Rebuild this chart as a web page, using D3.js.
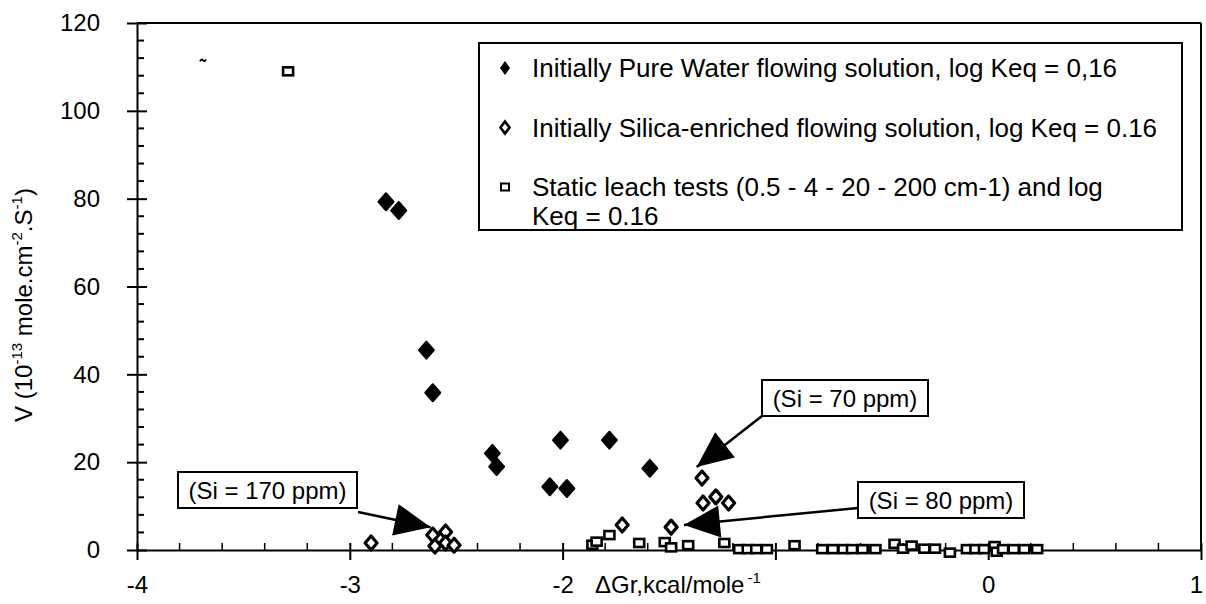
<!DOCTYPE html>
<html>
<head>
<meta charset="utf-8">
<script src="https://cdn.jsdelivr.net/npm/d3@7"></script>
<style>
  body { margin: 0; background: #fff; }
  text { font-family: "Liberation Sans", Arial, sans-serif; fill: #000; }
</style>
</head>
<body>
<svg id="chart"></svg>
<script>
// Initially pure water flowing solution (filled diamonds)
var pure_dg = [-2.83, -2.77, -2.64, -2.61, -2.33, -2.31, -2.01, -1.78, -2.06, -1.98, -1.59];
var pure_v  = [79.3, 77.3, 45.5, 35.8, 22.0, 19.0, 25.0, 25.0, 14.4, 14.0, 18.6];

// Initially silica-enriched flowing solution (open diamonds)
var silica_dg = [-2.90, -2.61, -2.60, -2.55, -2.55, -2.51, -1.72, -1.49, -1.345, -1.34, -1.28, -1.22];
var silica_v  = [1.6, 3.4, 0.9, 4.1, 1.6, 1.1, 5.7, 5.2, 16.4, 10.7, 12.1, 10.7];

// Static leach tests (open squares)
var static_dg = [-3.29, -1.86, -1.84, -1.78, -1.64, -1.52, -1.49, -1.41, -1.24, -1.17, -1.13, -1.09, -1.04,
                 -0.91, -0.78, -0.73, -0.68, -0.64, -0.59, -0.53, -0.44, -0.40, -0.36, -0.30, -0.25, -0.18,
                 -0.10, -0.06, -0.02, 0.03, 0.04, 0.07, 0.12, 0.17, 0.23];
var static_v  = [109.0, 1.2, 1.9, 3.4, 1.6, 1.8, 0.6, 1.1, 1.6, 0.2, 0.2, 0.2, 0.2,
                 1.1, 0.2, 0.2, 0.2, 0.2, 0.2, 0.2, 1.4, 0.3, 1.0, 0.3, 0.3, -0.6,
                 0.2, 0.2, 0.2, 0.9, -0.4, 0.2, 0.2, 0.2, 0.2];

// stray mark near the top left of the scan
var stray_dg = [-3.69];
var stray_v = [111.5];

var x_ticks = [-4, -3, -2, -1, 0, 1];
var x_labels = {"-4": "-4", "-3": "-3", "-2": "-2", "-1": "", "0": "0", "1": "1"};
var y_ticks = [0, 20, 40, 60, 80, 100, 120];

var legend_labels = [
  ["Initially Pure Water flowing solution, log Keq = 0,16"],
  ["Initially Silica-enriched flowing solution, log Keq = 0.16"],
  ["Static leach tests (0.5 - 4 - 20 - 200 cm-1) and log", "Keq = 0.16"]
];

// annotations: label, box left/top/width, arrow start (px), arrow tip (data coords)
var notes = [
  {label: "(Si = 170 ppm)", bx: 178, by: 472, bw: 179, from: [358, 512], tip: [-2.62, 5.2]},
  {label: "(Si = 70 ppm)",  bx: 762, by: 380, bw: 166, from: [762, 416], tip: [-1.37, 18.9]},
  {label: "(Si = 80 ppm)",  bx: 858, by: 482, bw: 166, from: [858, 508], tip: [-1.43, 5.7]}
];

var W = 1206, H = 604;
var svg = d3.select("#chart").attr("width", W).attr("height", H);

var x = d3.scaleLinear().domain([-4, 1]).range([137, 1201]);
var y = d3.scaleLinear().domain([0, 120]).range([550, 23]);

function diamond(w, h) {
  return "M0," + (-h/2) + "L" + (w/2) + ",0L0," + (h/2) + "L" + (-w/2) + ",0Z";
}

// frame: top and right
svg.append("line").attr("x1", x(-4)).attr("x2", x(1)).attr("y1", y(120)).attr("y2", y(120))
  .attr("stroke", "#000").attr("stroke-width", 2);
svg.append("line").attr("x1", x(1)).attr("x2", x(1)).attr("y1", y(120)).attr("y2", y(0))
  .attr("stroke", "#000").attr("stroke-width", 2);

// minor ticks
svg.selectAll(".yminor")
  .data(d3.range(0, 121, 4).filter(d => d % 20 != 0))
  .enter().append("line")
    .attr("class", "yminor")
    .attr("x1", x(-4)).attr("x2", x(-4) + 7)
    .attr("y1", d => y(d)).attr("y2", d => y(d))
    .attr("stroke", "#000").attr("stroke-width", 2);

svg.selectAll(".xminor")
  .data(d3.range(-4, 1.001, 0.2).filter(d => Math.abs(d - Math.round(d)) > 0.01))
  .enter().append("line")
    .attr("class", "xminor")
    .attr("x1", d => x(d)).attr("x2", d => x(d))
    .attr("y1", y(0)).attr("y2", y(0) - 7)
    .attr("stroke", "#000").attr("stroke-width", 1.5);

var yaxis = svg.append("g")
  .attr("transform", "translate(" + x(-4) + ",0)")
  .call(d3.axisLeft(y).tickValues(y_ticks).tickSize(10).tickSizeOuter(0).tickPadding(27)
        .tickFormat(d => String(d)));
yaxis.selectAll(".tick line").attr("x1", 10).attr("stroke-width", 2);
yaxis.select(".domain").attr("stroke-width", 2);
yaxis.selectAll(".tick text").style("font-size", "24px").style("font-family", "Liberation Sans, Arial, sans-serif");

var xaxis = svg.append("g")
  .attr("transform", "translate(0," + y(0) + ")")
  .call(d3.axisBottom(x).tickValues(x_ticks).tickSize(10).tickSizeOuter(0).tickPadding(16)
        .tickFormat(d => x_labels[String(d)]));
xaxis.selectAll(".tick line").attr("y1", -7).attr("stroke-width", 2);
xaxis.select(".domain").attr("stroke-width", 2);
xaxis.selectAll(".tick text").style("font-size", "24px").style("font-family", "Liberation Sans, Arial, sans-serif")
  .attr("dx", d => d == 1 ? -5 : 0);

// axis titles
var xt = svg.append("text").attr("x", 595).attr("y", 593).style("font-size", "24px");
xt.append("tspan").text("\u0394Gr,kcal/mole");
xt.append("tspan").attr("dy", -10).attr("dx", 3).style("font-size", "15px").text("-1");

var yt = svg.append("text")
  .attr("transform", "translate(32,305) rotate(-90)")
  .attr("text-anchor", "middle")
  .style("font-size", "24px");
yt.append("tspan").text("V (10");
yt.append("tspan").attr("dy", -10).style("font-size", "15px").text("-13");
yt.append("tspan").attr("dy", 10).text(" mole.cm");
yt.append("tspan").attr("dy", -10).style("font-size", "15px").text("-2");
yt.append("tspan").attr("dy", 10).text(".S");
yt.append("tspan").attr("dy", -10).style("font-size", "15px").text("-1");
yt.append("tspan").attr("dy", 10).text(")");

// points
var pure = d3.zip(pure_dg, pure_v);
var silica = d3.zip(silica_dg, silica_v);
var stat = d3.zip(static_dg, static_v);

svg.selectAll(".stat")
  .data(stat)
  .enter().append("rect")
    .attr("class", "stat")
    .attr("x", d => x(d[0]) - 5).attr("y", d => y(d[1]) - 4)
    .attr("width", 10).attr("height", 8)
    .attr("fill", "#fff").attr("stroke", "#000").attr("stroke-width", 2.6);

svg.selectAll(".silica")
  .data(silica)
  .enter().append("path")
    .attr("class", "silica")
    .attr("d", diamond(12, 14))
    .attr("transform", d => "translate(" + x(d[0]) + "," + y(d[1]) + ")")
    .attr("fill", "#fff").attr("stroke", "#000").attr("stroke-width", 3.2)
    .attr("stroke-linejoin", "round");

svg.selectAll(".pure")
  .data(pure)
  .enter().append("path")
    .attr("class", "pure")
    .attr("d", diamond(15, 17))
    .attr("transform", d => "translate(" + x(d[0]) + "," + y(d[1]) + ")")
    .attr("fill", "#000").attr("stroke", "#000").attr("stroke-width", 2)
    .attr("stroke-linejoin", "round");

svg.selectAll(".stray")
  .data(d3.zip(stray_dg, stray_v))
  .enter().append("path")
    .attr("class", "stray")
    .attr("d", "M-3,1 Q-1.5,-2 0,0 T3,-1")
    .attr("transform", d => "translate(" + x(d[0]) + "," + y(d[1]) + ")")
    .attr("fill", "none").attr("stroke", "#000").attr("stroke-width", 1.8);

// legend
var lg = svg.append("g");
lg.append("rect").attr("x", 479).attr("y", 43).attr("width", 703).attr("height", 187)
  .attr("fill", "#fff").attr("stroke", "#000").attr("stroke-width", 2);
var rows = lg.selectAll(".lrow")
  .data(legend_labels)
  .enter().append("g")
    .attr("class", "lrow")
    .attr("transform", (d, i) => "translate(505," + (68 + i * 59.5) + ")");
rows.each(function(d, i) {
  var r = d3.select(this);
  if (i == 0) {
    r.append("path").attr("d", diamond(10, 14)).attr("fill", "#000");
  } else if (i == 1) {
    r.append("path").attr("d", diamond(9, 12)).attr("fill", "#fff")
      .attr("stroke", "#000").attr("stroke-width", 2.6);
  } else {
    r.append("rect").attr("x", -4).attr("y", -3.5).attr("width", 8).attr("height", 7)
      .attr("fill", "#fff").attr("stroke", "#000").attr("stroke-width", 2);
  }
  d.forEach(function(line, j) {
    r.append("text").attr("x", 27).attr("y", 9 + j * 29)
      .style("font-size", "26px").text(line);
  });
});

// annotations
var ng = svg.selectAll(".note")
  .data(notes)
  .enter().append("g").attr("class", "note");

ng.append("line")
  .attr("x1", d => d.from[0]).attr("y1", d => d.from[1])
  .attr("x2", d => x(d.tip[0])).attr("y2", d => y(d.tip[1]))
  .attr("stroke", "#000").attr("stroke-width", 2.5);

ng.append("path")
  .attr("d", function(d) {
    var tx = x(d.tip[0]), ty = y(d.tip[1]);
    var dx = tx - d.from[0], dy = ty - d.from[1];
    var len = Math.sqrt(dx*dx + dy*dy);
    var ux = dx/len, uy = dy/len;
    var bx = tx - ux*36, by = ty - uy*36;
    var px = -uy*16, py = ux*16;
    return "M" + tx + "," + ty + "L" + (bx+px) + "," + (by+py) + "L" + (bx-px) + "," + (by-py) + "Z";
  })
  .attr("fill", "#000");

ng.append("rect")
  .attr("x", d => d.bx).attr("y", d => d.by)
  .attr("width", d => d.bw).attr("height", 36)
  .attr("fill", "#fff").attr("stroke", "#000").attr("stroke-width", 2);

ng.append("text")
  .attr("x", d => d.bx + d.bw/2).attr("y", d => d.by + 27)
  .attr("text-anchor", "middle")
  .style("font-size", "24px")
  .text(d => d.label);
</script>
</body>
</html>
